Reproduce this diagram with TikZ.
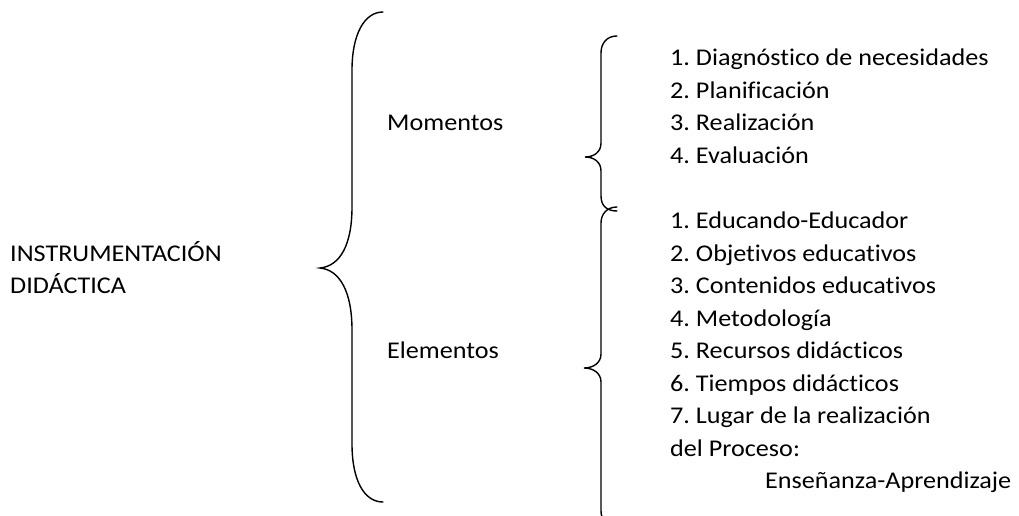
\documentclass[tikz,border=0pt]{standalone}
\usepackage{fontspec}
\setmainfont{Carlito}[Ligatures=CommonOff,FakeStretch=1.09]
\usepackage{tikz}
\frenchspacing

\begin{document}
\begin{tikzpicture}[x=1pt,y=-1pt,
        every node/.style={font=\fontsize{24}{32.5}\selectfont,inner sep=0pt,anchor=base west},
        brace/.style={line width=1.4pt,line cap=round}]

  \clip (0,0) rectangle (1019,516);

  \node (instr) at (10,261) {INSTRUMENTACIÓN};
  \node (did) at (10,293.5) {DIDÁCTICA};

  \node (mom) at (387,131) {Momentos};
  \node (ele) at (387,358.5) {Elementos};

  \foreach \t [count=\i] in {Diagnóstico de necesidades,Planificación,Realización,Evaluación}
    \node (m\i) at (670,{66+32.5*(\i-1)}) {\i. \t};

  \foreach \t [count=\i] in {Educando-Educador,Objetivos educativos,Contenidos educativos,
      Metodología,Recursos didácticos,Tiempos didácticos,Lugar de la realización}
    \node (e\i) at (670,{228.5+32.5*(\i-1)}) {\i. \t};
  \node (proc) at (670,456) {del Proceso:};
  \node (ens) at (765,488.5) {Enseñanza-Aprendizaje};

  % braces
  \draw[brace] (383,12) .. controls (364,12) and (352,35) .. (352,70) -- (352,207)
        .. controls (352,245) and (340,266) .. (320,268)
        .. controls (340,270) and (352,292) .. (352,330) -- (352,444)
        .. controls (352,480) and (364,502) .. (383,502);
  \draw[brace] (617,36) .. controls (607,36) and (601,43) .. (601,53) -- (601,143)
        .. controls (601,152) and (594,157) .. (585,157)
        .. controls (594,157) and (601,162) .. (601,171) -- (601,196)
        .. controls (601,206) and (607,211) .. (617,211);
  \draw[brace] (617,207) .. controls (607,207) and (601,214) .. (601,223) -- (601,354)
        .. controls (601,363) and (593,368) .. (584,368)
        .. controls (593,368) and (601,373) .. (601,382) -- (601,511)
        .. controls (601,520) and (607,526) .. (617,526);

\end{tikzpicture}
\end{document}
